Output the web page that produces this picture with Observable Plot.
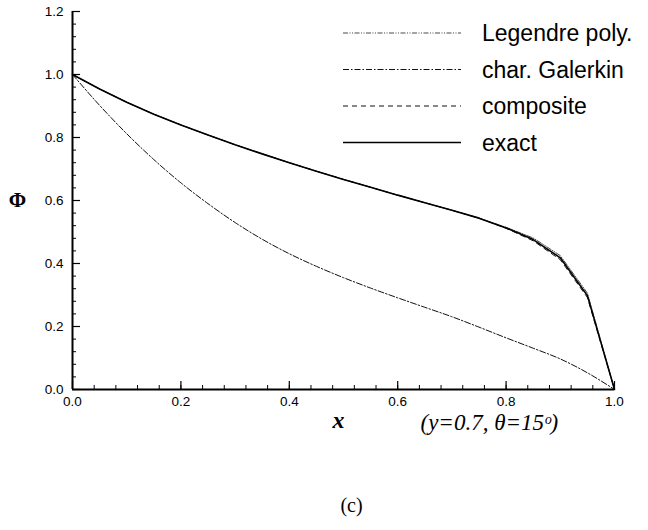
<!DOCTYPE html>
<html>
<head>
<meta charset="utf-8">
<script src="https://cdn.jsdelivr.net/npm/d3@7"></script>
<script src="https://cdn.jsdelivr.net/npm/@observablehq/plot@0.6"></script>
<style>
  html, body { margin: 0; padding: 0; background: #fff; }
</style>
</head>
<body>
<div id="chart"></div>
<script>
// ---- data ----
const xValues = [0, 0.05, 0.1, 0.15, 0.2, 0.25, 0.3, 0.35, 0.4, 0.45, 0.5, 0.55, 0.6, 0.65, 0.7, 0.75, 0.8, 0.85, 0.9, 0.95, 1.0];
const exactValues     = [1.000, 0.954, 0.912, 0.874, 0.840, 0.808, 0.777, 0.748, 0.720, 0.693, 0.667, 0.642, 0.617, 0.593, 0.569, 0.544, 0.513, 0.476, 0.418, 0.298, 0.000];
const legendreValues  = [1.000, 0.954, 0.912, 0.874, 0.840, 0.808, 0.777, 0.748, 0.720, 0.693, 0.667, 0.642, 0.617, 0.593, 0.569, 0.544, 0.515, 0.481, 0.425, 0.306, 0.000];
const compositeValues = [1.000, 0.954, 0.912, 0.874, 0.840, 0.808, 0.777, 0.748, 0.720, 0.693, 0.667, 0.642, 0.617, 0.593, 0.569, 0.544, 0.512, 0.472, 0.412, 0.292, 0.000];
const galerkinValues  = [1.000, 0.902, 0.812, 0.730, 0.656, 0.590, 0.530, 0.477, 0.431, 0.391, 0.355, 0.322, 0.291, 0.261, 0.231, 0.198, 0.164, 0.131, 0.097, 0.053, 0.000];

const seriesNames = ["Legendre poly.", "char. Galerkin", "composite", "exact"];
const xTickLabels = [0, 0.2, 0.4, 0.6, 0.8, 1.0];
const yTickLabels = [0, 0.2, 0.4, 0.6, 0.8, 1.0, 1.2];
const xLabel = "x";
const yLabel = "Φ";
const noteLabel = "(y=0.7, θ=15ᵒ)";
const panelLabel = "(c)";

// ---- styles ----
const styles = {
  "Legendre poly.": {dash: "5,1.5,1,1.5,1,1.5", width: 0.9, color: "#333", curve: "linear"},
  "char. Galerkin": {dash: "6,2,1.5,2", width: 1, color: "#111", curve: "monotone-x"},
  "composite":      {dash: "5,4", width: 1, color: "#111", curve: "linear"},
  "exact":          {dash: null, width: 1.6, color: "#000", curve: "linear"}
};
const valuesByName = {
  "Legendre poly.": legendreValues,
  "char. Galerkin": galerkinValues,
  "composite": compositeValues,
  "exact": exactValues
};

const W = 648, H = 530;
const mL = 72, mR = 34, mT = 11, mB = 141;
const plotW = W - mL - mR, plotH = H - mT - mB;

const rows = [];
for (const name of seriesNames) {
  valuesByName[name].forEach((v, i) => rows.push({series: name, x: xValues[i], y: v}));
}

const minorX = d3.range(0, 1.0001, 0.04).map(v => +v.toFixed(2));
const minorY = d3.range(0, 1.2001, 0.04).map(v => +v.toFixed(2));

const sansFont = "'Liberation Sans', Arial, Helvetica, sans-serif";
const serifFont = "'Liberation Serif', 'Times New Roman', serif";

function legend(index, scales, values, dims) {
  const g = d3.create("svg:g");
  const x0 = 343, x1 = 461, tx = 482, top = 33, gap = 36.5;
  seriesNames.forEach((name, i) => {
    const s = styles[name];
    const y = top + i * gap;
    g.append("line")
      .attr("x1", x0).attr("x2", x1).attr("y1", y).attr("y2", y)
      .attr("stroke", s.color).attr("stroke-width", s.width)
      .attr("stroke-dasharray", s.dash);
    g.append("text")
      .attr("x", tx).attr("y", y + 8)
      .attr("text-anchor", "start")
      .attr("font-family", sansFont).attr("font-size", 23)
      .attr("fill", "#000")
      .text(name);
  });
  return g.node();
}

const drawOrder = ["char. Galerkin", "Legendre poly.", "composite", "exact"];

const chart = Plot.plot({
  width: W,
  height: H,
  marginLeft: mL,
  marginRight: mR,
  marginTop: mT,
  marginBottom: mB,
  style: {background: "#fff", color: "#000", fontFamily: sansFont, fontSize: "13px"},
  x: {domain: [0, 1], label: null},
  y: {domain: [0, 1.2], label: null},
  marks: [
    // minor ticks
    Plot.tickX(minorX, {x: d => d, insetTop: plotH - 4, stroke: "#000", strokeWidth: 1}),
    Plot.tickY(minorY, {y: d => d, insetRight: plotW - 4, stroke: "#000", strokeWidth: 1}),
    // major ticks
    Plot.tickX(xTickLabels, {x: d => d, insetTop: plotH - 8, stroke: "#000", strokeWidth: 1.2}),
    Plot.tickY(yTickLabels, {y: d => d, insetRight: plotW - 8, stroke: "#000", strokeWidth: 1.2}),
    // axes labels
    Plot.axisX({ticks: xTickLabels, tickSize: 0, tickPadding: 7, tickFormat: d3.format(".1f"), fontSize: 13.5, label: null}),
    Plot.axisY({ticks: yTickLabels, tickSize: 0, tickPadding: 9, tickFormat: d3.format(".1f"), fontSize: 13.5, label: null}),
    // curves
    ...drawOrder.map(name => Plot.line(rows.filter(r => r.series === name), {
      x: "x", y: "y",
      stroke: styles[name].color,
      strokeWidth: styles[name].width,
      strokeDasharray: styles[name].dash,
      curve: styles[name].curve,
      strokeLinejoin: "miter"
    })),
    // axis lines
    Plot.ruleX([0], {stroke: "#000", strokeWidth: 2}),
    Plot.ruleY([0], {stroke: "#000", strokeWidth: 2}),
    // labels
    Plot.text([yLabel], {text: d => d, frameAnchor: "left", dx: -55, dy: 0, fontFamily: serifFont, fontWeight: "bold", fontSize: 21, textAnchor: "middle"}),
    Plot.text([xLabel], {text: d => d, frameAnchor: "bottom", dx: -5, dy: 38, fontFamily: serifFont, fontWeight: "bold", fontStyle: "italic", fontSize: 24, textAnchor: "middle"}),
    Plot.text([noteLabel], {text: d => d, frameAnchor: "bottom", dx: 77, dy: 40, fontFamily: serifFont, fontStyle: "italic", fontSize: 23, textAnchor: "start", letterSpacing: "2px"}),
    Plot.text([panelLabel], {text: d => d, frameAnchor: "bottom", dx: 8, dy: 122, fontFamily: serifFont, fontSize: 20, textAnchor: "middle"}),
    legend
  ]
});

document.getElementById("chart").appendChild(chart);
</script>
</body>
</html>
